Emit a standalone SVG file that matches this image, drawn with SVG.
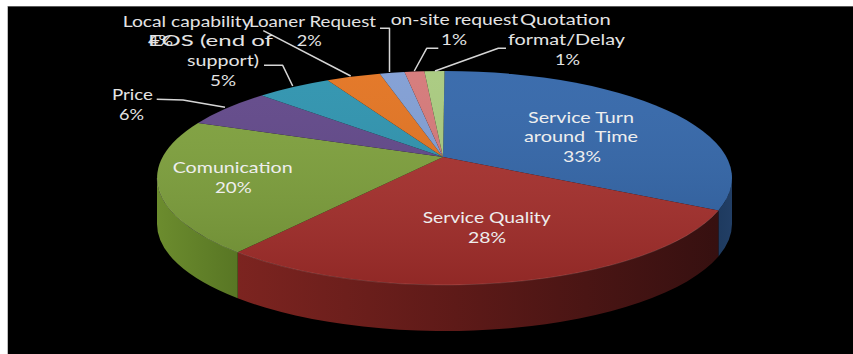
<svg xmlns="http://www.w3.org/2000/svg" width="853" height="354" viewBox="0 0 853 354">
  <style>
    .lbl { font-family: Lato, "Open Sans", "Liberation Sans", sans-serif; font-size: 16px; fill: #E4E4E4; white-space: pre; }
    .in { fill: #EEEEEE; }
    .lead { fill: none; stroke: #D6D6D6; stroke-width: 1.5; stroke-linejoin: round; }
    .face { stroke: none; }
  </style>
  <defs>
    <linearGradient id="topShade" gradientUnits="userSpaceOnUse" x1="0" y1="71" x2="0" y2="285">
      <stop offset="0" stop-color="#FFFFFF" stop-opacity="0.06"/>
      <stop offset="1" stop-color="#000000" stop-opacity="0.14"/>
    </linearGradient>
    <linearGradient id="sideBlue" gradientUnits="userSpaceOnUse" x1="700" y1="0" x2="735" y2="0">
      <stop offset="0" stop-color="#1A3558"/>
      <stop offset="1" stop-color="#223F66"/>
    </linearGradient>
    <linearGradient id="sideRed" gradientUnits="userSpaceOnUse" x1="238" y1="0" x2="718" y2="0">
      <stop offset="0" stop-color="#7C2420"/>
      <stop offset="0.45" stop-color="#5E1A18"/>
      <stop offset="1" stop-color="#361010"/>
    </linearGradient>
    <linearGradient id="sideGreen" gradientUnits="userSpaceOnUse" x1="157" y1="0" x2="238" y2="0">
      <stop offset="0" stop-color="#6C8C2E"/>
      <stop offset="1" stop-color="#587624"/>
    </linearGradient>
  </defs>

  <!-- page and chart area -->
  <rect x="0" y="0" width="853" height="354" fill="#FFFFFF"/>
  <rect x="7" y="6" width="846" height="348" fill="#000000"/>
  <line x1="7" y1="6.5" x2="853" y2="6.5" stroke="#5A5A5A" stroke-width="1"/>
  <line x1="7.5" y1="6" x2="7.5" y2="354" stroke="#BDBDBD" stroke-width="1"/>

  <!-- pie walls (front) -->
  <g id="walls">
    <path class="face" fill="url(#sideBlue)" d="M732,178 A287.5,107 0 0 1 718.4,210.5 L718.4,256.5 A287.5,107 0 0 0 732,224 Z"/>
    <path class="face" fill="url(#sideRed)" d="M718.4,210.5 A287.5,107 0 0 1 237.7,252.3 L237.7,298.3 A287.5,107 0 0 0 718.4,256.5 Z"/>
    <path class="face" fill="url(#sideGreen)" d="M237.7,252.3 A287.5,107 0 0 1 157,178 L157,224 A287.5,107 0 0 0 237.7,298.3 Z"/>
  </g>

  <!-- pie slices (top faces) -->
  <g id="slice-turnaround">
    <path class="face" fill="#3064A8" d="M443,157 L444.5,71 A287.5,107 0 0 1 718.4,210.5 Z"/>
  </g>
  <g id="slice-quality">
    <path class="face" fill="#A82F2C" d="M443,157 L718.4,210.5 A287.5,107 0 0 1 237.7,252.3 Z"/>
  </g>
  <g id="slice-communication">
    <path class="face" fill="#7DA03A" d="M443,157 L237.7,252.3 A287.5,107 0 0 1 198.1,122.9 Z"/>
  </g>
  <g id="slice-price">
    <path class="face" fill="#5E4487" d="M443,157 L198.1,122.9 A287.5,107 0 0 1 261.7,95.5 Z"/>
  </g>
  <g id="slice-eos">
    <path class="face" fill="#2A91AD" d="M443,157 L261.7,95.5 A287.5,107 0 0 1 327.6,80.3 Z"/>
  </g>
  <g id="slice-local">
    <path class="face" fill="#E2711D" d="M443,157 L327.6,80.3 A287.5,107 0 0 1 379.8,73.8 Z"/>
  </g>
  <g id="slice-loaner">
    <path class="face" fill="#7E9CD3" d="M443,157 L379.8,73.8 A287.5,107 0 0 1 404.5,72 Z"/>
  </g>
  <g id="slice-onsite">
    <path class="face" fill="#D47676" d="M443,157 L404.5,72 A287.5,107 0 0 1 424.4,71.3 Z"/>
  </g>
  <g id="slice-quotation">
    <path class="face" fill="#A7C97C" d="M443,157 L424.4,71.3 A287.5,107 0 0 1 444.5,71 Z"/>
  </g>
  <!-- soft lighting over the top face -->
  <ellipse cx="444.5" cy="178" rx="287.5" ry="107" fill="url(#topShade)"/>
  <path d="M718.4,210.5 A287.5,107 0 0 1 157,178" fill="none" stroke="#FFFFFF" stroke-opacity="0.12" stroke-width="1"/>

  <!-- leader lines -->
  <g id="connectors">
    <polyline class="lead" points="263.3,30.7 350.7,76"/>
    <polyline class="lead" points="264,65.3 282.7,65.3 292.7,86"/>
    <polyline class="lead" points="156.7,99.3 183,100 225,107.3"/>
    <polyline class="lead" points="380,28.3 389.5,28.3 389.5,72"/>
    <polyline class="lead" points="438.3,48.3 426.7,48.3 414.3,71"/>
    <polyline class="lead" points="506,48.3 498.3,48.3 435,71"/>
  </g>

  <!-- data labels -->
  <g id="labels">
    <text class="lbl" x="122.7" y="26.7" textLength="129" lengthAdjust="spacingAndGlyphs">Local capability</text>
    <text class="lbl" x="249" y="26.7" textLength="127" lengthAdjust="spacingAndGlyphs">Loaner Request</text>
    <text class="lbl" x="148" y="45.7" textLength="25" lengthAdjust="spacingAndGlyphs">4%</text>
    <text class="lbl" x="148" y="45.7" textLength="125" lengthAdjust="spacingAndGlyphs">EOS (end of</text>
    <text class="lbl" x="296.7" y="45.7" textLength="25" lengthAdjust="spacingAndGlyphs">2%</text>
    <text class="lbl" x="187" y="66" textLength="72" lengthAdjust="spacingAndGlyphs">support)</text>
    <text class="lbl" x="210" y="86" textLength="26" lengthAdjust="spacingAndGlyphs">5%</text>
    <text class="lbl" x="112" y="100" textLength="41" lengthAdjust="spacingAndGlyphs">Price</text>
    <text class="lbl" x="119" y="120" textLength="25" lengthAdjust="spacingAndGlyphs">6%</text>
    <text class="lbl" x="390.7" y="25" textLength="127.6" lengthAdjust="spacingAndGlyphs">on-site request</text>
    <text class="lbl" x="520" y="25" textLength="90.7" lengthAdjust="spacingAndGlyphs">Quotation</text>
    <text class="lbl" x="441" y="45" textLength="26" lengthAdjust="spacingAndGlyphs">1%</text>
    <text class="lbl" x="508" y="45" textLength="117" lengthAdjust="spacingAndGlyphs">format/Delay</text>
    <text class="lbl" x="555" y="65" textLength="25" lengthAdjust="spacingAndGlyphs">1%</text>
    <text class="lbl in" x="528" y="122.7" textLength="106" lengthAdjust="spacingAndGlyphs">Service Turn</text>
    <text class="lbl in" x="524" y="141.7" textLength="114" lengthAdjust="spacingAndGlyphs">around  Time</text>
    <text class="lbl in" x="563" y="161.7" textLength="38" lengthAdjust="spacingAndGlyphs">33%</text>
    <text class="lbl in" x="422.7" y="223.3" textLength="128" lengthAdjust="spacingAndGlyphs">Service Quality</text>
    <text class="lbl in" x="468" y="242.7" textLength="38" lengthAdjust="spacingAndGlyphs">28%</text>
    <text class="lbl in" x="172.7" y="172.7" textLength="120" lengthAdjust="spacingAndGlyphs">Comunication</text>
    <text class="lbl in" x="215" y="192.7" textLength="36.7" lengthAdjust="spacingAndGlyphs">20%</text>
  </g>
</svg>
